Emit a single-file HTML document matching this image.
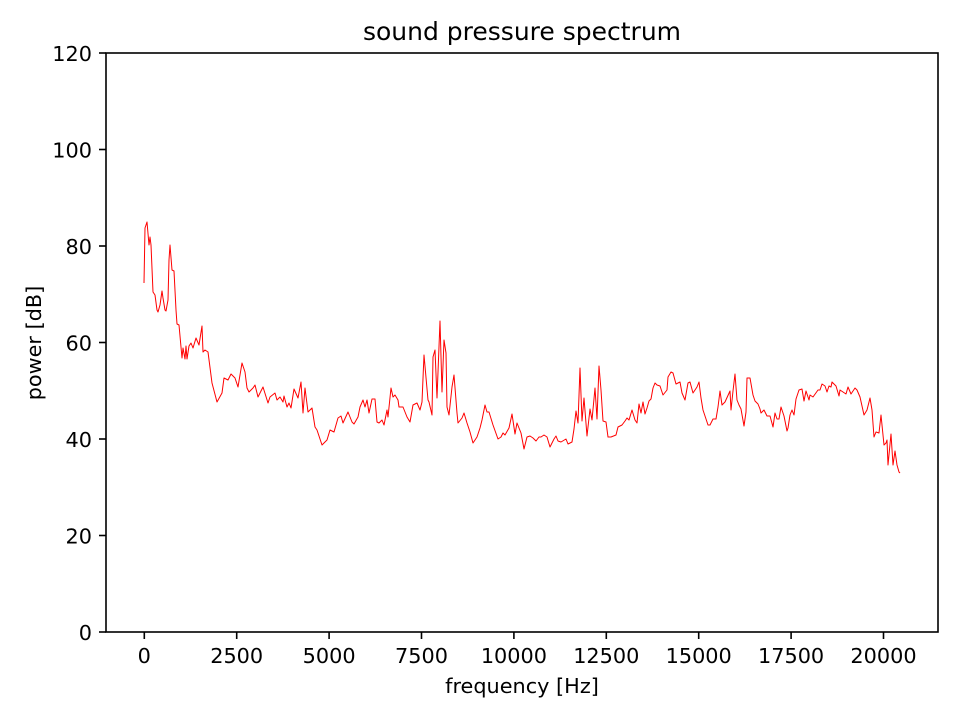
<!DOCTYPE html>
<html><head><meta charset="utf-8"><style>body{margin:0;background:#fff}svg{display:block}text{font-family:"DejaVu Sans",sans-serif;fill:#000}</style></head><body>
<svg width="960" height="720" viewBox="0 0 960 720">
<rect x="106" y="53" width="832" height="579" fill="none" stroke="#000" stroke-width="1.6"/>
<text x="522" y="40" font-size="25" text-anchor="middle">sound pressure spectrum</text>
<g font-size="20.8" text-anchor="end">
<text x="92" y="640">0</text><text x="92" y="543.5">20</text><text x="92" y="447">40</text><text x="92" y="350.5">60</text><text x="92" y="254">80</text><text x="92" y="157.5">100</text><text x="92" y="61">120</text>
</g>
<g stroke="#000" stroke-width="1.6"><line x1="99" x2="106" y1="632" y2="632"/><line x1="99" x2="106" y1="535.5" y2="535.5"/><line x1="99" x2="106" y1="439" y2="439"/><line x1="99" x2="106" y1="342.5" y2="342.5"/><line x1="99" x2="106" y1="246" y2="246"/><line x1="99" x2="106" y1="149.5" y2="149.5"/><line x1="99" x2="106" y1="53" y2="53"/>
<line y1="632" y2="639" x1="144.3" x2="144.3"/><line y1="632" y2="639" x1="236.7" x2="236.7"/><line y1="632" y2="639" x1="329.1" x2="329.1"/><line y1="632" y2="639" x1="421.5" x2="421.5"/><line y1="632" y2="639" x1="513.9" x2="513.9"/><line y1="632" y2="639" x1="606.3" x2="606.3"/><line y1="632" y2="639" x1="698.7" x2="698.7"/><line y1="632" y2="639" x1="791.1" x2="791.1"/><line y1="632" y2="639" x1="883.5" x2="883.5"/></g>
<g font-size="20.8" text-anchor="middle">
<text x="144.3" y="663">0</text><text x="236.7" y="663">2500</text><text x="329.1" y="663">5000</text><text x="421.5" y="663">7500</text><text x="513.9" y="663">10000</text><text x="606.3" y="663">12500</text><text x="698.7" y="663">15000</text><text x="791.1" y="663">17500</text><text x="883.5" y="663">20000</text>
</g>
<text x="522" y="693" font-size="20.8" text-anchor="middle">frequency [Hz]</text>
<text transform="translate(41,343) rotate(-90)" font-size="20.8" text-anchor="middle">power [dB]</text>
<polyline fill="none" stroke="#f00" stroke-width="1" stroke-linejoin="round" points="144,283 145,228 147,222 149,245 150,237 151,245 153,292 155,295 157,310 158,312 160,305 162,291 163,298 165,310 166,311 168,300 169,260 170,245 172,270 174,271 176,310 177,324 179,325 182,358 183,348 185,359 186,346 187,359 189,346 191,343 193,348 196,338 199,345 202,326 203,352 205,350 208,352 212,383 217,402 222,393 224,378 228,380 231,374 235,378 238,387 242,363 245,372 247,388 249,392 253,388 255,385 258,397 263,387 268,403 270,397 275,393 277,400 280,397 283,402 284,396 287,407 289,403 291,408 294,389 298,398 301,382 303,413 305,388 308,412 312,408 315,427 317,430 322,445 327,440 330,430 334,432 338,418 341,416 343,423 348,412 352,422 354,424 358,417 360,407 363,400 365,407 367,400 369,413 372,399 375,399 377,422 379,423 382,420 384,425 387,410 388,417 391,388 393,397 395,395 398,400 399,407 403,407 407,417 410,422 413,405 417,403 420,410 422,402 424,355 428,400 429,402 432,415 433,357 435,350 437,398 440,321 442,392 444,340 446,353 447,407 449,415 452,387 454,375 457,413 458,423 462,418 464,413 467,423 470,432 473,443 477,437 480,428 482,420 485,405 487,412 489,412 493,425 498,439 501,437 503,433 505,435 509,428 512,414 515,434 517,423 521,433 524,449 527,437 530,436 533,438 536,441 539,437 541,437 544,435 547,437 550,447 554,439 556,436 558,441 561,442 566,439 568,444 572,442 574,429 576,411 578,423 580,368 582,421 584,398 587,436 590,409 592,420 595,388 597,419 599,366 601,390 603,421 606,422 608,437 611,437 616,435 618,427 622,425 625,421 627,418 629,420 632,410 635,420 637,423 639,404 641,413 643,402 645,414 647,408 649,401 651,399 653,388 655,383 657,385 660,386 663,395 667,390 668,377 671,372 673,373 676,384 680,382 682,393 685,400 688,383 690,382 693,393 697,387 699,382 701,398 703,410 705,416 708,425 710,425 713,419 716,419 718,407 720,391 722,405 725,402 730,391 731,410 733,391 735,374 737,400 739,405 741,409 744,426 746,412 747,378 750,378 753,395 755,401 758,404 760,409 761,413 764,410 767,416 770,416 773,427 775,413 777,419 779,419 781,407 784,416 787,431 788,428 790,415 792,410 794,415 796,399 799,390 802,389 804,401 806,391 809,400 810,395 813,397 818,390 820,390 822,384 825,386 827,392 829,386 831,387 832,382 836,386 839,396 840,390 843,392 846,394 848,387 851,394 855,388 857,390 860,397 864,415 867,410 870,398 872,410 874,437 876,432 879,433 881,415 884,445 886,443 887,440 888,465 891,434 893,465 895,451 897,465 899,472 900,473"/>
</svg>
</body></html>
